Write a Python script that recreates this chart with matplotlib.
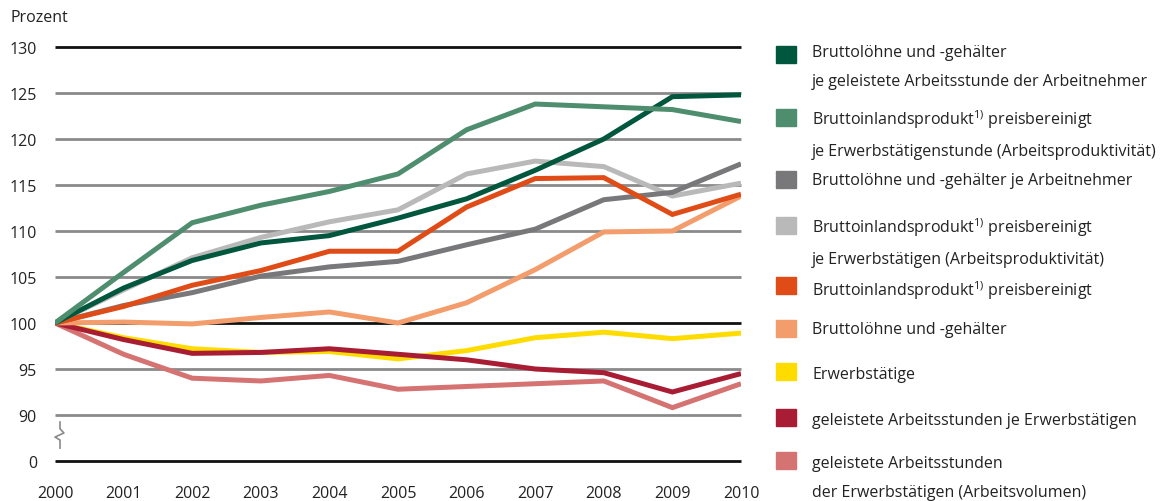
import matplotlib.pyplot as plt
from matplotlib.patches import Rectangle

plt.rcParams['font.family'] = ['Open Sans', 'DejaVu Sans']
plt.rcParams['mathtext.default'] = 'regular'

years = list(range(2000, 2011))

lohn_stunde = [100, 103.8, 106.8, 108.7, 109.5, 111.4, 113.5, 116.6, 120.0, 124.6, 124.8]
bip_stunde = [100, 105.5, 110.9, 112.8, 114.3, 116.2, 121.0, 123.8, 123.5, 123.2, 121.9]
lohn_arbeitnehmer = [100, 101.9, 103.3, 105.1, 106.1, 106.7, 108.5, 110.2, 113.4, 114.2, 117.3]
bip_erwerb = [100, 103.6, 107.1, 109.3, 111.0, 112.3, 116.2, 117.6, 117.0, 113.8, 115.2]
bip = [100, 101.8, 104.1, 105.7, 107.8, 107.8, 112.6, 115.7, 115.8, 111.8, 114.0]
lohn = [100, 100.1, 99.9, 100.6, 101.2, 100.0, 102.2, 105.8, 109.9, 110.0, 113.8]
erwerbstaetige = [100, 98.4, 97.2, 96.8, 96.9, 96.1, 97.0, 98.4, 99.0, 98.3, 98.9]
stunden_je = [100, 98.2, 96.7, 96.8, 97.2, 96.6, 96.0, 95.0, 94.6, 92.5, 94.5]
volumen = [100, 96.6, 94.0, 93.7, 94.3, 92.8, 93.1, 93.4, 93.7, 90.8, 93.4]

y_ticks = [85, 90, 95, 100, 105, 110, 115, 120, 125, 130]
y_labels = ['0', '90', '95', '100', '105', '110', '115', '120', '125', '130']

series = [
    (lohn_stunde, '#00573d', 'Bruttolöhne und -gehälter\nje geleistete Arbeitsstunde der Arbeitnehmer'),
    (bip_stunde, '#4e8e6e', 'Bruttoinlandsprodukt$^{1)}$ preisbereinigt\nje Erwerbstätigenstunde (Arbeitsproduktivität)'),
    (lohn_arbeitnehmer, '#78787a', 'Bruttolöhne und -gehälter je Arbeitnehmer'),
    (bip_erwerb, '#b9b9b9', 'Bruttoinlandsprodukt$^{1)}$ preisbereinigt\nje Erwerbstätigen (Arbeitsproduktivität)'),
    (bip, '#e04c17', 'Bruttoinlandsprodukt$^{1)}$ preisbereinigt'),
    (lohn, '#f39d6c', 'Bruttolöhne und -gehälter'),
    (erwerbstaetige, '#ffdc00', 'Erwerbstätige'),
    (stunden_je, '#a81d33', 'geleistete Arbeitsstunden je Erwerbstätigen'),
    (volumen, '#d57373', 'geleistete Arbeitsstunden\nder Erwerbstätigen (Arbeitsvolumen)'),
]

fig = plt.figure(figsize=(11.7, 5.02), dpi=100)
ax = fig.add_axes([55 / 1170, 1 - 462 / 502, 686 / 1170, 414 / 502])
ax.set_xlim(2000, 2010)
ax.set_ylim(85, 130)

# gridlines
for t in y_ticks:
    black = t in (85, 100, 130)
    ax.plot([2000, 2010], [t, t], color='#111111' if black else '#8a8a8a',
            lw=2.0, zorder=1, solid_capstyle='butt', clip_on=False)

# draw order: back to front
order = [6, 8, 7, 5, 3, 2, 4, 0, 1]
for i in order:
    vals, col, _ = series[i]
    ax.plot(years, vals, color=col, lw=3.6, zorder=3, solid_joinstyle='miter',
            solid_capstyle='butt')

# axis break mark
ax.plot([2000.073, 2000.073, 2000.13, 2000.0, 2000.073, 2000.073],
        [89.24, 88.5, 88.05, 87.6, 87.28, 86.4], color='#8a8a8a', lw=1.2,
        clip_on=False, zorder=2)

for s in ax.spines.values():
    s.set_visible(False)
ax.set_yticks(y_ticks)
ax.set_yticklabels(y_labels, fontsize=11.5, color='#222222')
ax.set_xticks(years)
ax.set_xticklabels([str(y) for y in years], fontsize=11.5, color='#222222')
ax.tick_params(length=0)
ax.tick_params(axis='y', pad=13)
ax.tick_params(axis='x', pad=17)

fig.text(10 / 1170, 1 - 18 / 502, 'Prozent', fontsize=11.5, color='#222222',
         va='center', ha='left')

# legend
sq_y = [55, 118, 180, 226, 286, 329, 372, 418, 461]
txt_y = [52, 115, 180, 223, 286, 329, 374, 420, 463]
for (vals, col, label), sy, ty in zip(series, sq_y, txt_y):
    fig.patches.append(Rectangle((776 / 1170, 1 - (sy + 8.5) / 502), 20 / 1170, 17 / 502,
                                 transform=fig.transFigure, color=col))
    fig.text(812 / 1170, 1 - (ty - 7) / 502, label, fontsize=11.5, color='#222222',
             va='top', ha='left', linespacing=2.1)

fig.savefig('out.png', dpi=100)
